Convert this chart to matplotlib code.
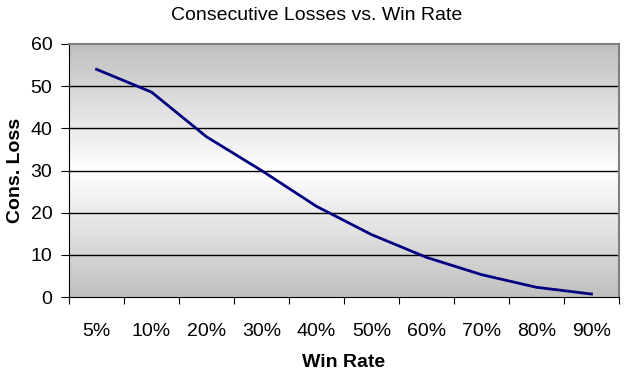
import numpy as np
import matplotlib.pyplot as plt
from matplotlib.colors import LinearSegmentedColormap

plt.rcParams['font.family'] = ['Liberation Sans', 'DejaVu Sans']

win_rates = ['5%', '10%', '20%', '30%', '40%', '50%', '60%', '70%', '80%', '90%']
cons_loss = [54, 48.6, 38, 30, 21.5, 14.8, 9.4, 5.3, 2.3, 0.7]

fig = plt.figure(figsize=(6.26, 3.80), dpi=100)
ax = fig.add_axes([69 / 626, 1 - 297 / 380, 550 / 626, 253 / 380])

# excel style gradient: grey top/bottom, white in the middle
cmap = LinearSegmentedColormap.from_list('g', ['#c0c0c0', '#ffffff', '#c0c0c0'])
grad = np.linspace(0, 1, 256).reshape(-1, 1)
ax.imshow(grad, cmap=cmap, aspect='auto', extent=[0, 1, 0, 1],
          transform=ax.transAxes, zorder=0)

x = np.arange(len(win_rates)) + 0.5
ax.set_xlim(0, len(win_rates))
ax.set_ylim(0, 60)
for yv in range(10, 60, 10):
    ax.axhline(yv, color='black', lw=1, zorder=1)
ax.plot(x, cons_loss, color='#000080', lw=2, zorder=3)

ax.set_yticks(range(0, 61, 10))
ax.set_xticks(np.arange(len(win_rates) + 1))
ax.set_xticklabels([])
ax.set_xticks(x, minor=True)
ax.set_xticklabels(win_rates, minor=True)
ax.tick_params(axis='x', which='minor', length=0, pad=19, labelsize=14)
ax.tick_params(axis='x', which='major', length=5, direction='out', color='black')
ax.tick_params(axis='y', length=6, direction='out', labelsize=14, pad=6)

for s in ['top', 'right']:
    ax.spines[s].set_color('#808080')
    ax.spines[s].set_linewidth(1.5)
for s in ['left', 'bottom']:
    ax.spines[s].set_color('black')

ax.set_xlabel('Win Rate', fontsize=14, fontweight='bold', labelpad=10)
ax.set_ylabel('Cons. Loss', fontsize=14, fontweight='bold', labelpad=5)
fig.text(0.505, 1 - 16 / 380, 'Consecutive Losses vs. Win Rate',
         ha='center', va='center', fontsize=14)

fig.savefig('out.png', dpi=100)
